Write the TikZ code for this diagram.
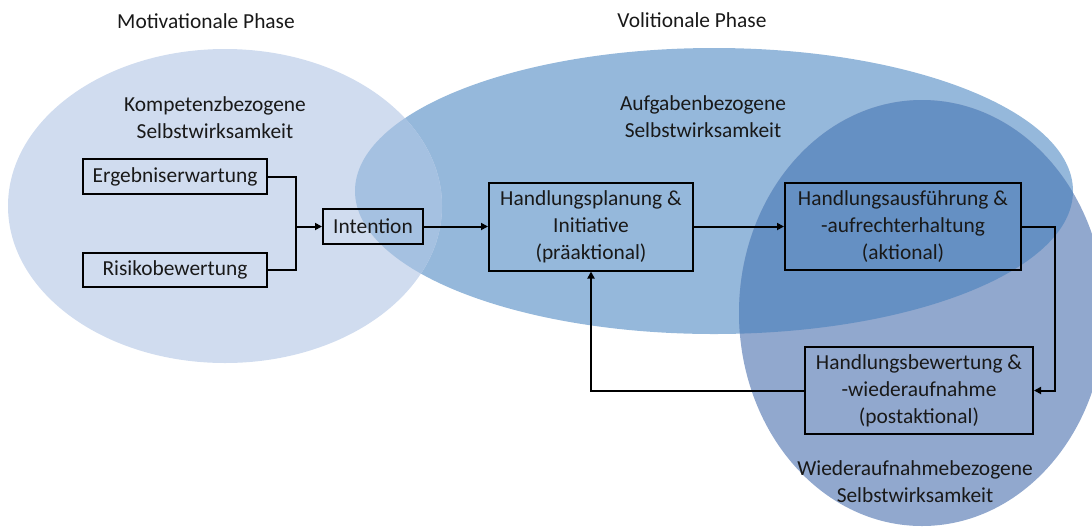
\documentclass[tikz,border=0pt]{standalone}
\usepackage{fontspec}
\setmainfont{Carlito}
\usetikzlibrary{arrows.meta}

\definecolor{kompetenz}{HTML}{D0DCEF}
\definecolor{aufgabe}{HTML}{95B8DB}
\definecolor{kompaufg}{HTML}{A5C1E1}
\definecolor{wieder}{HTML}{91A8CE}
\definecolor{aufgwieder}{HTML}{6590C3}

\begin{document}
\begin{tikzpicture}[x=0.5pt, y=-0.5pt,
  font=\fontsize{10.7}{13.5}\selectfont, text=black!90,
  box/.style={draw=black, line width=1pt, align=center, inner sep=0pt},
  flow/.style={line width=1pt, -{Triangle[length=3.5pt,width=3.5pt]}}]
\useasboundingbox (0,0) rectangle (1092,526);

% ellipses
\fill[aufgabe] (714,191) ellipse [x radius=359, y radius=143];
\fill[kompetenz] (225,206) ellipse [x radius=217, y radius=157];
\begin{scope}
\clip (225,206) ellipse [x radius=217, y radius=157];
\fill[kompaufg] (714,191) ellipse [x radius=359, y radius=143];
\end{scope}
\fill[wieder] (922,313) ellipse [x radius=183, y radius=213];
\begin{scope}
\clip (922,313) ellipse [x radius=183, y radius=213];
\fill[aufgwieder] (714,191) ellipse [x radius=359, y radius=143];
\end{scope}

% labels
\node (motph) at (206,21) {Motivationale Phase};
\node (volph) at (692,20) {Volitionale Phase};
\node[align=center] (komp) at (215,118) {Kompetenzbezogene\\Selbstwirksamkeit};
\node[align=center] (aufg) at (703,117) {Aufgabenbezogene\\Selbstwirksamkeit};
\node[align=center] (wied) at (915,482) {Wiederaufnahmebezogene\\Selbstwirksamkeit};

% boxes
\node[box, minimum width=92pt, minimum height=17.5pt] (erg) at (175,176.5) {Ergebniserwartung};
\node[box, minimum width=92pt, minimum height=17pt] (risk) at (175,270) {Risikobewertung};
\node[box, minimum width=50pt, minimum height=17.5pt] (int) at (373,226.5) {Intention};
\node[box, minimum width=102pt, minimum height=44pt] (plan) at (591,226.5) {Handlungsplanung \&\\Initiative\\(präaktional)};
\node[box, minimum width=118pt, minimum height=43.5pt] (ausf) at (903,226.5) {Handlungsausführung \&\\-aufrechterhaltung\\(aktional)};
\node[box, minimum width=114pt, minimum height=43.5pt] (bew) at (919,390.5) {Handlungsbewertung \&\\-wiederaufnahme\\(postaktional)};

% connectors
\coordinate (join) at (296,226.5);
\coordinate (turn) at (1055,226.5);
\draw[line width=1pt] (erg.east) -| (join) |- (risk.east);
\draw[flow] (join) -- (int.west);
\draw[flow] (int.east) -- (plan.west);
\draw[flow] (plan.east) -- (ausf.west);
\draw[flow] (ausf.east) -- (turn) |- (bew.east);
\draw[flow] (bew.west) -| (plan.south);
\end{tikzpicture}
\end{document}
